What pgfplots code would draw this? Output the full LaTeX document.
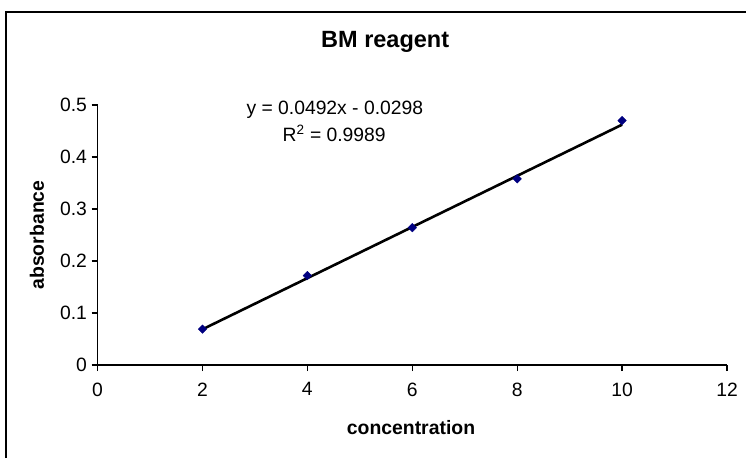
\documentclass[border=0pt]{standalone}
\usepackage{pgfplots}
\pgfplotsset{compat=1.18}
\usepackage{fontspec}
\setmainfont{Liberation Sans}
\definecolor{navy}{RGB}{0,0,128}
\newcommand{\tk}{\fontsize{19.3}{23}\selectfont}
\begin{document}
\begin{tikzpicture}[x=1pt,y=1pt]
\path[use as bounding box] (0,0) rectangle (746,458);
\draw[line width=1.3pt] (6,0) -- (6,446) -- (746,446);
\begin{axis}[
  at={(97.5pt,93pt)}, anchor=south west,
  scale only axis, width=629.5pt, height=260pt,
  xmin=0, xmax=12, ymin=0, ymax=0.5,
  axis x line*=bottom, axis y line*=left,
  axis line style={line width=1.2pt,-},
  xtick={0,2,4,6,8,10,12},
  xticklabels={0,2,4,6,8,10,12},
  ytick={0,0.1,0.2,0.3,0.4,0.5},
  yticklabels={0,0.1,0.2,0.3,0.4,0.5},
  tick align=outside, major tick length=6pt,
  tick style={line width=1.2pt, black},
  tick label style={font=\tk},
  xticklabel style={yshift=-8pt},
  yticklabel style={xshift=-1pt},
  title={BM reagent},
  title style={font=\fontsize{23.5}{28}\selectfont\bfseries, at={(axis description cs:0.457,1.2)}, anchor=base},
  xlabel={concentration},
  xlabel style={font=\fontsize{19.4}{23}\selectfont\bfseries, at={(axis description cs:0.498,-0.269)}, anchor=base},
  ylabel={absorbance},
  ylabel style={font=\fontsize{19.4}{23}\selectfont\bfseries, at={(axis description cs:-0.085,0.5)}, anchor=base, rotate=0},
  clip=false,
]
\addplot[black, line width=2.6pt] coordinates {(2,0.0686) (10,0.4622)};
\addplot[only marks, mark=square*, mark size=3pt, mark options={rotate=45, fill=navy, draw=navy}] coordinates {
(2,0.069) (4,0.172) (6,0.264) (8,0.358) (10,0.470)};
\node[font=\tk, anchor=base] at (axis description cs:0.377,0.965) {y = 0.0492x - 0.0298};
\node[font=\tk, anchor=base] at (axis description cs:0.376,0.858) {R\textsuperscript{2} = 0.9989};
\end{axis}
\end{tikzpicture}
\end{document}
